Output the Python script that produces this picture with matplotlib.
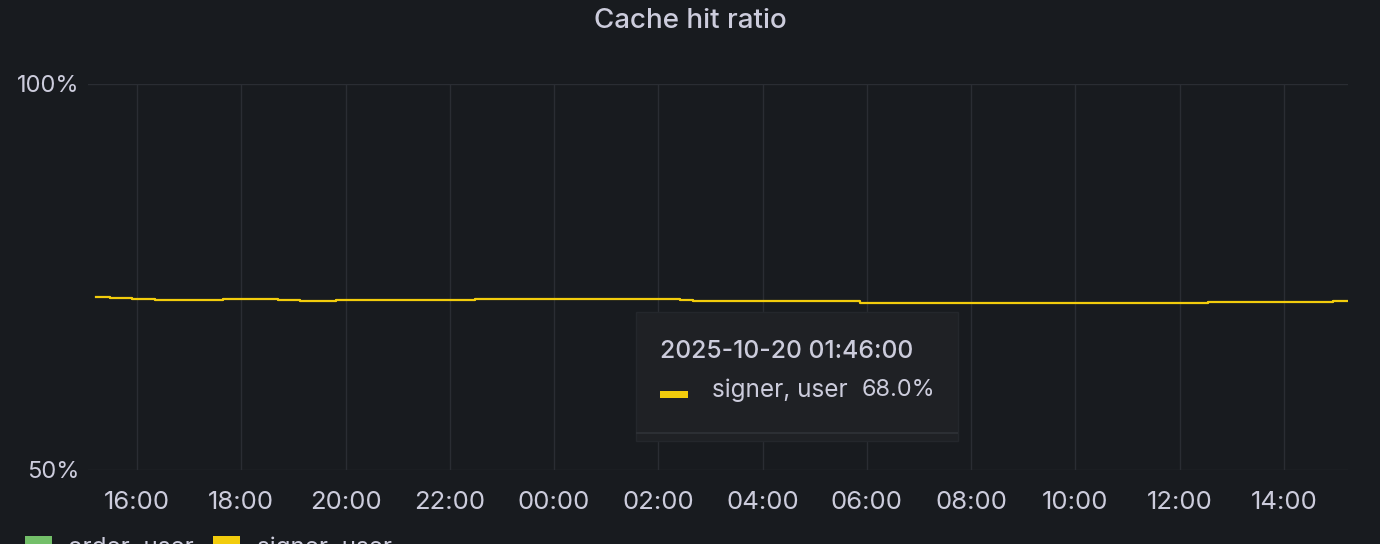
import matplotlib
matplotlib.use("Agg")
import matplotlib.pyplot as plt
import matplotlib.dates as mdates
from matplotlib.patches import Rectangle
import pandas as pd

plt.rcParams['font.family'] = ['Inter', 'DejaVu Sans']

# step breakpoints of the signer_user series (2025-10-19 15:13 -> 2025-10-20 15:12)
times = ["2025-10-19 15:13", "2025-10-19 15:29", "2025-10-19 15:54", "2025-10-19 16:21",
         "2025-10-19 17:39", "2025-10-19 18:04", "2025-10-19 18:42", "2025-10-19 19:08",
         "2025-10-19 19:49", "2025-10-19 22:11", "2025-10-19 22:29", "2025-10-20 02:25",
         "2025-10-20 02:40", "2025-10-20 05:52", "2025-10-20 12:32", "2025-10-20 14:56",
         "2025-10-20 15:12"]
signer_user = [72.45, 72.32, 72.15, 72.06, 72.10, 72.19, 72.06, 71.93,
               72.06, 72.02, 72.15, 72.02, 71.89, 71.65, 71.80, 71.93, 71.93]

legend_names = ["order, user", "signer, user"]
legend_colors = ["#73bf69", "#f2cc0c"]
tooltip_time = "2025-10-20 01:46:00"
tooltip_value = "68.0%"

BG = "#181b1f"
TXT = "#ccccdc"
GRID = "#2a2d33"

t = pd.to_datetime(times)

fig = plt.figure(figsize=(13.8, 5.44), dpi=100, facecolor=BG)
ax = fig.add_axes([88 / 1380, 1 - 470 / 544, 1260 / 1380, 386 / 544], facecolor=BG)

ax.plot(t, signer_user, drawstyle="steps-post", color="#f2cc0c", lw=1.6)

ax.set_ylim(50, 100)
ax.set_yticks([50, 100])
ax.set_yticklabels(["50%", "100%"])
ax.set_xlim(pd.Timestamp("2025-10-19 15:03:36"), pd.Timestamp("2025-10-20 15:13:36"))
ax.xaxis.set_major_locator(mdates.HourLocator(byhour=range(0, 24, 2)))
ax.xaxis.set_major_formatter(mdates.DateFormatter("%H:%M"))

ax.grid(True, color=GRID, lw=1)
for s in ax.spines.values():
    s.set_visible(False)
ax.tick_params(length=0, colors=TXT)
ax.tick_params(axis="x", pad=15, labelsize=18.5)
ax.tick_params(axis="y", pad=6.5, labelsize=17)

fig.text(0.5, 1 - 21 / 544, "Cache hit ratio", ha="center", va="center",
         color=TXT, fontsize=20, fontweight="medium")

# tooltip
fig.patches.append(Rectangle((636 / 1380, 1 - 441 / 544), 322 / 1380, 129 / 544,
                             transform=fig.transFigure, facecolor="#1f2125",
                             edgecolor="#24272c", lw=1, zorder=5))
fig.patches.append(Rectangle((636 / 1380, 1 - 434 / 544), 322 / 1380, 2 / 544,
                             transform=fig.transFigure, facecolor="#2c2f34",
                             edgecolor="none", zorder=6))
fig.text(660 / 1380, 1 - 352 / 544, tooltip_time, ha="left", va="center",
         color=TXT, fontsize=17.8, fontweight="medium", zorder=7)
fig.patches.append(Rectangle((660 / 1380, 1 - 398 / 544), 28 / 1380, 7 / 544,
                             transform=fig.transFigure, facecolor=legend_colors[1],
                             edgecolor="none", zorder=7))
fig.text(712 / 1380, 1 - 390 / 544, legend_names[1], ha="left", va="center",
         color=TXT, fontsize=17.5, zorder=7)
fig.text(935 / 1380, 1 - 390 / 544, tooltip_value, ha="right", va="center",
         color=TXT, fontsize=16.9, zorder=7)

# legend, cut by the bottom edge
fig.patches.append(Rectangle((25 / 1380, 1 - 554 / 544), 27 / 1380, 18 / 544,
                             transform=fig.transFigure, facecolor=legend_colors[0],
                             edgecolor="none"))
fig.text(68 / 1380, 1 - 548 / 544, legend_names[0], ha="left", va="center",
         color=TXT, fontsize=17.4)
fig.patches.append(Rectangle((213 / 1380, 1 - 554 / 544), 27 / 1380, 18 / 544,
                             transform=fig.transFigure, facecolor=legend_colors[1],
                             edgecolor="none"))
fig.text(257 / 1380, 1 - 548 / 544, legend_names[1], ha="left", va="center",
         color=TXT, fontsize=17.4)

fig.savefig("out.png", dpi=100, facecolor=BG)
